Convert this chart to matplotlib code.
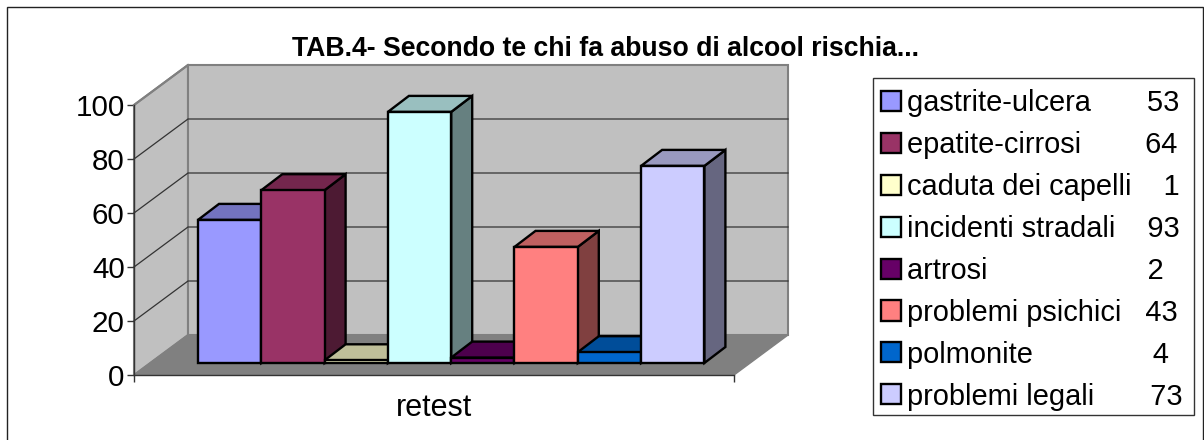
#!/usr/bin/python3
# TAB.4 - 3D look column chart, drawn on a flat axes with a depth offset

import matplotlib
matplotlib.use('Agg')
import matplotlib.pyplot as plt
from matplotlib.patches import Polygon, Patch, Rectangle
from matplotlib.colors import to_rgb

title = 'TAB.4- Secondo te chi fa abuso di alcool rischia...'
names = ['gastrite-ulcera', 'epatite-cirrosi', 'caduta dei capelli', 'incidenti stradali',
         'artrosi', 'problemi psichici', 'polmonite', 'problemi legali']
values = [53, 64, 1, 93, 2, 43, 4, 73]
colors = ['#9999FF', '#993366', '#FFFFCC', '#CCFFFF', '#660066', '#FF8080', '#0066CC', '#CCCCFF']
# the original legend lines the numbers up with spaces
legend_gaps = [7, 8, 4, 4, 20, 3, 15, 7]
yticks = [0, 20, 40, 60, 80, 100]
category = 'retest'

W, H = 1204, 440
BAR_PX = 63.3
PX_Y = 2.7

plt.rcParams['font.family'] = ['Liberation Sans', 'DejaVu Sans']

def shade(c, f):
    return tuple(x * f for x in to_rgb(c))

def main():
    fig = plt.figure(figsize=(W / 100, H / 100), dpi=100)
    fig.add_artist(Rectangle((7 / W, -10 / H), 1196 / W, 443 / H, transform=fig.transFigure,
                             fill=False, ec='#222222', lw=1.0))
    ax = fig.add_axes([134 / W, 1 - 375 / H, 600 / W, 270 / H])
    ax.set_xlim((134 - 198) / BAR_PX, (734 - 198) / BAR_PX)
    ax.set_ylim(0, 100)
    ax.patch.set_visible(False)
    x0, x1 = ax.get_xlim()

    # depth of the floor and of the bars, px converted to data units
    wall_dx, wall_dy = 54 / BAR_PX, 40 / PX_Y
    bar_dx, bar_dy = 21 / BAR_PX, 16 / PX_Y
    base = 12 / PX_Y

    def poly(pts, fc, ec, lw, z):
        ax.add_patch(Polygon(pts, closed=True, fc=fc, ec=ec, lw=lw, zorder=z, clip_on=False, joinstyle='miter'))

    grey = '#808080'
    # walls and floor
    poly([(x0, 0), (x0 + wall_dx, wall_dy), (x0 + wall_dx, 100 + wall_dy), (x0, 100)], '#C0C0C0', grey, 1.5, 1)
    poly([(x0 + wall_dx, wall_dy), (x1 + wall_dx, wall_dy), (x1 + wall_dx, 100 + wall_dy), (x0 + wall_dx, 100 + wall_dy)],
         '#C0C0C0', grey, 1.5, 1)
    poly([(x0, 0), (x1, 0), (x1 + wall_dx, wall_dy), (x0 + wall_dx, wall_dy)], grey, grey, 1.0, 2)

    for v in yticks[1:-1]:
        ax.plot([x0, x0 + wall_dx, x1 + wall_dx], [v, v + wall_dy, v + wall_dy], color='#333333', lw=0.9,
                zorder=3, clip_on=False, solid_joinstyle='miter')
    ax.plot([x0, x0 + wall_dx], [100, 100 + wall_dy], color=grey, lw=1.5, zorder=3, clip_on=False)

    # columns, left to right so each covers the one before
    z = 4
    for i, (v, c) in enumerate(zip(values, colors)):
        top = base + v
        poly([(i + 1, base), (i + 1 + bar_dx, base + bar_dy), (i + 1 + bar_dx, top + bar_dy), (i + 1, top)],
             shade(c, 0.5), 'black', 1.7, z)
        poly([(i, top), (i + bar_dx, top + bar_dy), (i + 1 + bar_dx, top + bar_dy), (i + 1, top)],
             shade(c, 0.75), 'black', 1.7, z)
        ax.bar(i, v, width=1, bottom=base, align='edge', color=c, edgecolor='black', linewidth=1.7,
               zorder=z + 1, clip_on=False)
        z += 2

    for s in ['top', 'right']:
        ax.spines[s].set_visible(False)
    for s in ['left', 'bottom']:
        ax.spines[s].set_color('#333333')
        ax.spines[s].set_linewidth(1.0)
        ax.spines[s].set_zorder(3)
    ax.set_yticks(yticks)
    ax.set_xticks([x0, x1])
    ax.set_xticklabels(['', ''])
    ax.tick_params(axis='both', direction='out', length=5, width=1.0, color='#333333', labelsize=21.3, pad=1.7)
    ax.text((x0 + x1) / 2, -12.4, category, ha='center', va='center', fontsize=22)

    fig.text(605 / W, 1 - 49 / H, title, ha='center', va='center', fontsize=19.2, fontweight='bold')

    # legend box has a fixed size in the original, so the frame is drawn apart
    fig.add_artist(Rectangle((873 / W, 1 - 415 / H), 321 / W, 337 / H, transform=fig.transFigure,
                             fc='white', ec='#333333', lw=1.0))
    handles = [Patch(fc=c, ec='black', lw=1.7) for c in colors]
    labels = ['{}{}{}'.format(n, ' ' * g, v) for n, g, v in zip(names, legend_gaps, values)]
    leg = fig.legend(handles, labels, loc='upper left', bbox_to_anchor=(881 / W, 1 - 89 / H),
                     bbox_transform=fig.transFigure, fontsize=20.9, frameon=False,
                     handlelength=0.69, handleheight=0.69, handletextpad=0.2, labelspacing=0.48,
                     borderaxespad=0, borderpad=0)
    leg.set_zorder(5)

    plt.savefig('out.png', dpi=100)

if __name__ == '__main__':
    main()
